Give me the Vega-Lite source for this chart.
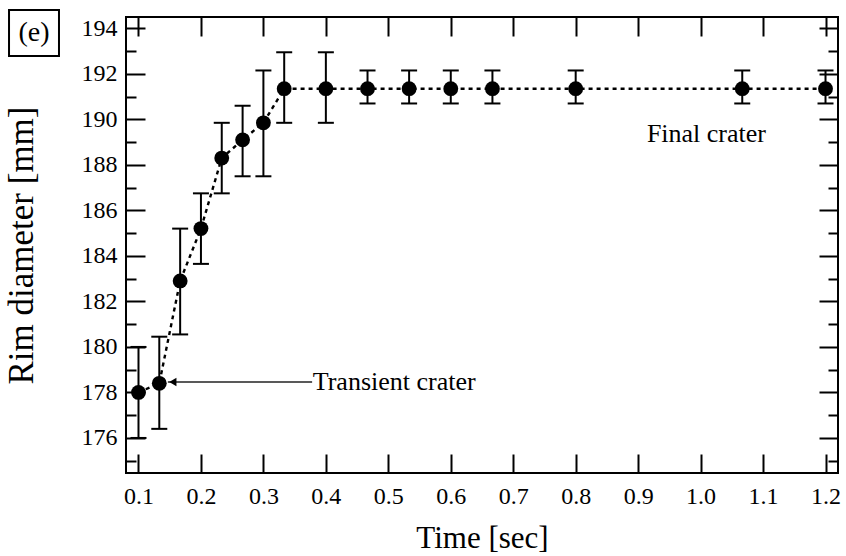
{
  "$schema": "https://vega.github.io/schema/vega-lite/v6.json",
  "width": 712,
  "height": 456,
  "autosize": {"type": "none"},
  "padding": {"left": 126, "top": 17, "right": 8, "bottom": 83},
  "background": "white",
  "config": {
    "font": "Liberation Serif",
    "view": {"stroke": "black", "strokeWidth": 2},
    "axis": {
      "domain": false, "grid": false, "tickColor": "black", "tickWidth": 2,
      "labelColor": "black", "titleColor": "black",
      "labelFont": "Liberation Serif", "titleFont": "Liberation Serif",
      "labelFontSize": 24, "titleFontSize": 31, "titleFontWeight": "normal",
      "labelFlush": false, "labelOverlap": false, "labelBound": false
    }
  },
  "datasets": {
    "pts": [
      {"t": 0.1, "d": 178.0, "lo": 176.0, "hi": 180.0},
      {"t": 0.1333, "d": 178.4, "lo": 176.4, "hi": 180.45},
      {"t": 0.1667, "d": 182.9, "lo": 180.55, "hi": 185.2},
      {"t": 0.2, "d": 185.2, "lo": 183.65, "hi": 186.75},
      {"t": 0.2333, "d": 188.3, "lo": 186.75, "hi": 189.85},
      {"t": 0.2667, "d": 189.1, "lo": 187.5, "hi": 190.6},
      {"t": 0.3, "d": 189.85, "lo": 187.5, "hi": 192.15},
      {"t": 0.3333, "d": 191.35, "lo": 189.85, "hi": 192.95},
      {"t": 0.4, "d": 191.35, "lo": 189.85, "hi": 192.95},
      {"t": 0.4667, "d": 191.35, "lo": 190.7, "hi": 192.15},
      {"t": 0.5333, "d": 191.35, "lo": 190.7, "hi": 192.15},
      {"t": 0.6, "d": 191.35, "lo": 190.7, "hi": 192.15},
      {"t": 0.6667, "d": 191.35, "lo": 190.7, "hi": 192.15},
      {"t": 0.8, "d": 191.35, "lo": 190.7, "hi": 192.15},
      {"t": 1.0667, "d": 191.35, "lo": 190.7, "hi": 192.15},
      {"t": 1.2, "d": 191.35, "lo": 190.7, "hi": 192.15}
    ],
    "arrow": [{"t": 0.147, "t2": 0.378, "d": 178.46}],
    "head": [{"t": 0.155, "d": 178.46}],
    "notes": [
      {"t": 0.379, "d": 178.1, "label": "Transient crater"},
      {"t": 0.914, "d": 189.01, "label": "Final crater"}
    ],
    "panel": [{"t": -0.1073, "t2": -0.0273, "d": 192.79, "d2": 194.81, "ct": -0.0673, "cd": 193.8, "label": "(e)"}]
  },
  "resolve": {"axis": {"x": "independent", "y": "independent"}},
  "layer": [
    {
      "data": {"name": "pts"},
      "mark": {"type": "line", "color": "black", "strokeWidth": 2.4, "strokeDash": [4, 4]},
      "encoding": {
        "x": {"field": "t", "type": "quantitative", "scale": {"domain": [0.08, 1.22], "nice": false, "zero": false},
          "axis": {"orient": "bottom", "values": [0.1, 0.2, 0.3, 0.4, 0.5, 0.6, 0.7, 0.8, 0.9, 1.0, 1.1, 1.2], "format": ".1f",
            "offset": -19, "tickSize": 19, "labelPadding": 11, "title": "Time [sec]", "titlePadding": 15}},
        "y": {"field": "d", "type": "quantitative", "scale": {"domain": [174.46, 194.5], "nice": false, "zero": false},
          "axis": {"orient": "left", "values": [176, 178, 180, 182, 184, 186, 188, 190, 192, 194],
            "offset": -19, "tickSize": 19, "labelPadding": 9, "title": "Rim diameter [mm]", "titleFontSize": 35, "titlePadding": 42}}
      }
    },
    {
      "data": {"name": "pts"},
      "mark": {"type": "rule", "color": "black", "strokeWidth": 2},
      "encoding": {
        "x": {"field": "t", "type": "quantitative", "scale": {"domain": [0.08, 1.22], "nice": false, "zero": false},
          "axis": {"orient": "top", "values": [0.1, 0.2, 0.3, 0.4, 0.5, 0.6, 0.7, 0.8, 0.9, 1.0, 1.1, 1.2],
            "offset": -19, "tickSize": 19, "labels": false, "title": null}},
        "y": {"field": "lo", "type": "quantitative", "scale": {"domain": [174.46, 194.5], "nice": false, "zero": false},
          "axis": {"orient": "right", "values": [176, 178, 180, 182, 184, 186, 188, 190, 192, 194],
            "offset": -19, "tickSize": 19, "labels": false, "title": null}},
        "y2": {"field": "hi"}
      }
    },
    {
      "data": {"name": "pts"},
      "mark": {"type": "tick", "orient": "horizontal", "color": "black", "size": 16, "thickness": 2, "opacity": 1},
      "encoding": {
        "x": {"field": "t", "type": "quantitative", "scale": {"domain": [0.08, 1.22], "nice": false, "zero": false}, "axis": null},
        "y": {"field": "lo", "type": "quantitative", "scale": {"domain": [174.46, 194.5], "nice": false, "zero": false},
          "axis": {"orient": "left", "values": [175, 177, 179, 181, 183, 185, 187, 189, 191, 193],
            "offset": -10, "tickSize": 10, "labels": false, "title": null}}
      }
    },
    {
      "data": {"name": "pts"},
      "mark": {"type": "tick", "orient": "horizontal", "color": "black", "size": 16, "thickness": 2, "opacity": 1},
      "encoding": {
        "x": {"field": "t", "type": "quantitative", "scale": {"domain": [0.08, 1.22], "nice": false, "zero": false}, "axis": null},
        "y": {"field": "hi", "type": "quantitative", "scale": {"domain": [174.46, 194.5], "nice": false, "zero": false},
          "axis": {"orient": "right", "values": [175, 177, 179, 181, 183, 185, 187, 189, 191, 193],
            "offset": -10, "tickSize": 10, "labels": false, "title": null}}
      }
    },
    {
      "data": {"name": "pts"},
      "mark": {"type": "circle", "color": "black", "size": 220, "opacity": 1},
      "encoding": {
        "x": {"field": "t", "type": "quantitative", "scale": {"domain": [0.08, 1.22], "nice": false, "zero": false}, "axis": null},
        "y": {"field": "d", "type": "quantitative", "scale": {"domain": [174.46, 194.5], "nice": false, "zero": false}, "axis": null}
      }
    },
    {
      "data": {"name": "arrow"},
      "mark": {"type": "rule", "color": "#222222", "strokeWidth": 1.3},
      "encoding": {
        "x": {"field": "t", "type": "quantitative", "scale": {"domain": [0.08, 1.22], "nice": false, "zero": false}, "axis": null},
        "x2": {"field": "t2"},
        "y": {"field": "d", "type": "quantitative", "scale": {"domain": [174.46, 194.5], "nice": false, "zero": false}, "axis": null}
      }
    },
    {
      "data": {"name": "head"},
      "mark": {"type": "point", "shape": "triangle-left", "filled": true, "color": "black", "size": 70, "opacity": 1},
      "encoding": {
        "x": {"field": "t", "type": "quantitative", "scale": {"domain": [0.08, 1.22], "nice": false, "zero": false}, "axis": null},
        "y": {"field": "d", "type": "quantitative", "scale": {"domain": [174.46, 194.5], "nice": false, "zero": false}, "axis": null}
      }
    },
    {
      "data": {"name": "notes"},
      "mark": {"type": "text", "align": "left", "baseline": "alphabetic", "font": "Liberation Serif", "fontSize": 26, "color": "black"},
      "encoding": {
        "x": {"field": "t", "type": "quantitative", "scale": {"domain": [0.08, 1.22], "nice": false, "zero": false}, "axis": null},
        "y": {"field": "d", "type": "quantitative", "scale": {"domain": [174.46, 194.5], "nice": false, "zero": false}, "axis": null},
        "text": {"field": "label"}
      }
    },
    {
      "data": {"name": "panel"},
      "mark": {"type": "rect", "fill": null, "fillOpacity": 0, "stroke": "black", "strokeWidth": 2},
      "encoding": {
        "x": {"field": "t", "type": "quantitative", "scale": {"domain": [0.08, 1.22], "nice": false, "zero": false}, "axis": null},
        "x2": {"field": "t2"},
        "y": {"field": "d", "type": "quantitative", "scale": {"domain": [174.46, 194.5], "nice": false, "zero": false}, "axis": null},
        "y2": {"field": "d2"}
      }
    },
    {
      "data": {"name": "panel"},
      "mark": {"type": "text", "align": "center", "baseline": "middle", "font": "Liberation Serif", "fontSize": 28, "color": "black"},
      "encoding": {
        "x": {"field": "ct", "type": "quantitative", "scale": {"domain": [0.08, 1.22], "nice": false, "zero": false}, "axis": null},
        "y": {"field": "cd", "type": "quantitative", "scale": {"domain": [174.46, 194.5], "nice": false, "zero": false}, "axis": null},
        "text": {"field": "label"}
      }
    }
  ]
}
